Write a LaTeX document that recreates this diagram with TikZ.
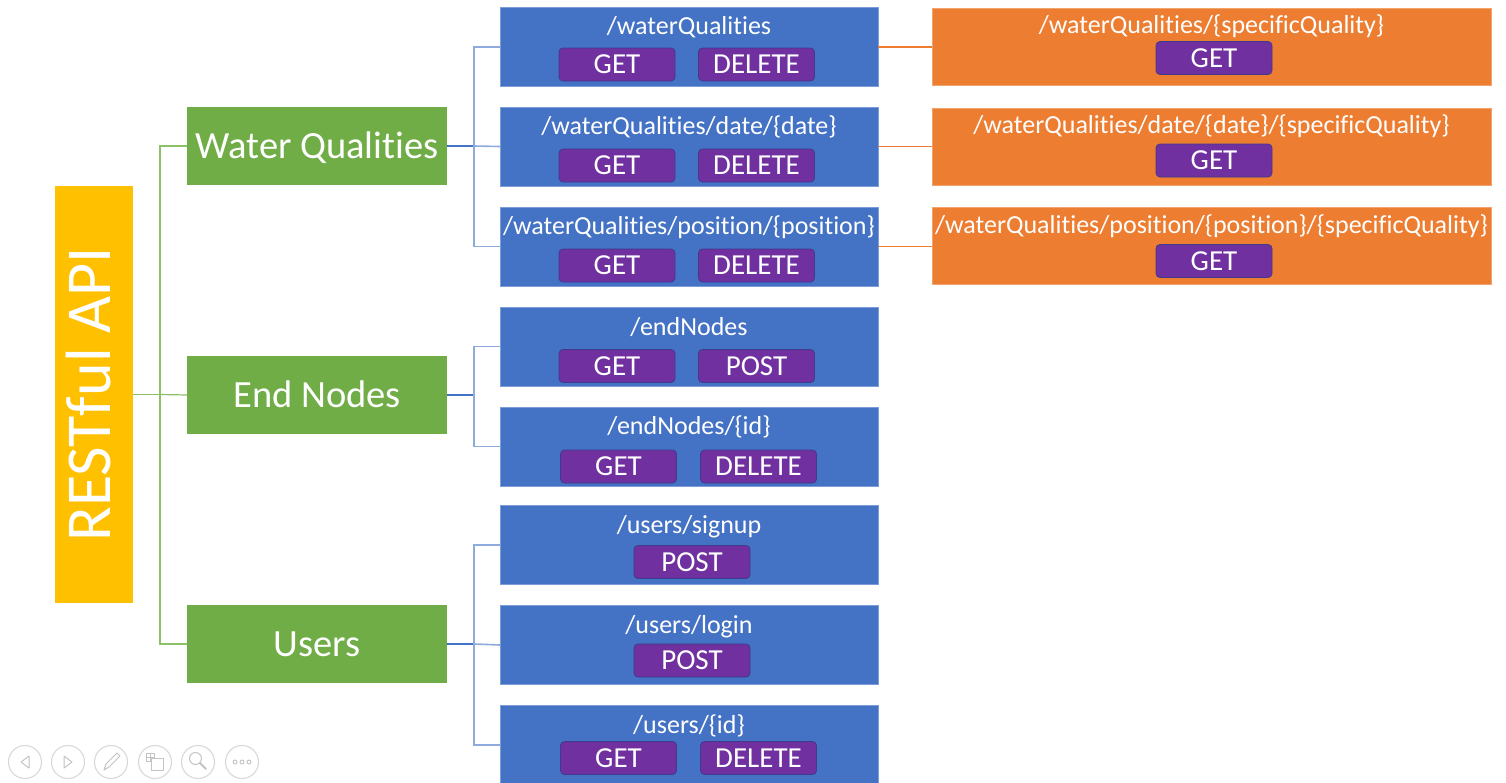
\documentclass[tikz,border=0pt]{standalone}
\usepackage{fontspec}
\setmainfont{Carlito}[Ligatures=NoCommon]
\definecolor{apiyellow}{HTML}{FFC000}
\definecolor{catgreen}{HTML}{70AD47}
\definecolor{epblue}{HTML}{4472C4}
\definecolor{epedge}{HTML}{7D9DD8}
\definecolor{verbpurple}{HTML}{7030A0}
\definecolor{verbedge}{HTML}{3F3A8C}
\definecolor{subgorange}{HTML}{ED7D31}
\definecolor{subgedge}{HTML}{F3A36C}
\definecolor{linkgreen}{HTML}{8CC168}
\definecolor{linkblue}{HTML}{4472C4}
\definecolor{linklight}{HTML}{8FAADC}
\definecolor{iconrim}{HTML}{D9D9D9}
\definecolor{iconglyph}{HTML}{C4C4C4}
\tikzset{
  every node/.style={text=white, inner sep=0pt, outer sep=0pt},
  rootbox/.style={fill=apiyellow, rotate=90, minimum width=417pt, minimum height=78pt,
    font=\fontsize{64}{64}\selectfont, text height=40.5pt, text depth=7pt},
  catbox/.style={fill=catgreen, minimum width=260pt, minimum height=78pt,
    font=\fontsize{38.5}{38.5}\selectfont, text height=24.3pt, text depth=0pt},
  epbox/.style={fill=epblue, draw=epedge, line width=0.8pt, minimum width=378pt, minimum height=79pt},
  subbox/.style={fill=subgorange, draw=subgedge, line width=0.8pt, minimum width=559pt, minimum height=77pt},
  pathtext/.style={anchor=base, font=\fontsize{26}{26}\selectfont},
  verb/.style={fill=verbpurple, draw=verbedge, line width=0.8pt, rounded corners=4pt,
    minimum width=116pt, minimum height=33pt,
    font=\fontsize{29}{29}\selectfont, text height=18.3pt, text depth=0pt},
  greenlink/.style={draw=linkgreen, line width=1.2pt},
  stemlink/.style={draw=linkblue, line width=1.4pt},
  branchlink/.style={draw=linklight, line width=1.6pt},
  orangelink/.style={draw=subgorange, line width=1.1pt},
  iconring/.style={draw=iconrim, line width=1.1pt},
  iconmark/.style={draw=iconglyph, line width=1pt, line join=round, line cap=round}
}
\begin{document}
\begin{tikzpicture}[x=1pt, y=-1pt]
\useasboundingbox (0,0) rectangle (1506,782);
\fill[white] (0,0) rectangle (1506,782);

% root and resource groups
\node[rootbox] (root) at (94,394.5) {RESTful API};
\node[catbox] (wq) at (317,146) {Water Qualities};
\node[catbox] (en) at (317,395) {End Nodes};
\node[catbox] (us) at (317,644) {Users};

% endpoint boxes
\node[epbox] (e1) at (689,47) {};
\node[epbox] (e2) at (689,146.5) {};
\node[epbox] (e3) at (689,246.5) {};
\node[epbox] (e4) at (689,346.5) {};
\node[epbox] (e5) at (689,446.5) {};
\node[epbox] (e6) at (689,545) {};
\node[epbox] (e7) at (689,645) {};
\node[epbox] (e8) at (689,745) {};

\node[pathtext] (t1) at (689,34) {/waterQualities};
\node[pathtext] (t2) at (689,134) {/waterQualities/date/\{date\}};
\node[pathtext] (t3) at (689,234) {/waterQualities/position/\{position\}};
\node[pathtext] (t4) at (689,335) {/endNodes};
\node[pathtext] (t5) at (689,434) {/endNodes/\{id\}};
\node[pathtext] (t6) at (689,533) {/users/signup};
\node[pathtext] (t7) at (689,633) {/users/login};
\node[pathtext] (t8) at (689,733) {/users/\{id\}};

\node[verb] (v1a) at (617,64.5) {GET};
\node[verb] (v1b) at (756.5,64.5) {DELETE};
\node[verb] (v2a) at (617,165.5) {GET};
\node[verb] (v2b) at (756.5,165.5) {DELETE};
\node[verb] (v3a) at (617,265.5) {GET};
\node[verb] (v3b) at (756.5,265.5) {DELETE};
\node[verb] (v4a) at (617,366) {GET};
\node[verb] (v4b) at (756.5,366) {POST};
\node[verb] (v5a) at (618.5,466.5) {GET};
\node[verb] (v5b) at (758.5,466.5) {DELETE};
\node[verb] (v6a) at (692,562) {POST};
\node[verb] (v7a) at (692,660.5) {POST};
\node[verb] (v8a) at (618.5,758) {GET};
\node[verb] (v8b) at (758.5,758) {DELETE};

% specific-quality sub-resources
\node[subbox] (s1) at (1211.5,46.5) {};
\node[subbox] (s2) at (1211.5,146.5) {};
\node[subbox] (s3) at (1211.5,245.5) {};
\node[pathtext] (st1) at (1211.5,33) {/waterQualities/\{specificQuality\}};
\node[pathtext] (st2) at (1211.5,133) {/waterQualities/date/\{date\}/\{specificQuality\}};
\node[pathtext] (st3) at (1211.5,233) {/waterQualities/position/\{position\}/\{specificQuality\}};
\node[verb] (sv1) at (1214,58) {GET};
\node[verb] (sv2) at (1214,160.5) {GET};
\node[verb] (sv3) at (1214,261) {GET};

% root to groups (rotated node: its south side faces right)
\draw[greenlink] (root.south) -- ++(27,0) coordinate (gj);
\draw[greenlink] (gj) |- (wq.west);
\draw[greenlink] (gj) |- (us.west);
\draw[greenlink] (gj) -- (en.west);

% groups to endpoints
\foreach \g/\a/\b in {wq/e1/e3, en/e4/e5, us/e6/e8}{
  \draw[stemlink] (\g.east) -- ([xshift=27pt]\g.east);
  \draw[branchlink] (\a.west) -| ([xshift=27pt]\g.east) |- (\b.west);
}
\draw[branchlink] ([xshift=27pt]wq.east) -- (e2.west);
\draw[branchlink] ([xshift=27pt]us.east) -- (e7.west);

% endpoints to sub-resources
\draw[orangelink] (e1.east) -- (e1.east -| s1.west);
\draw[orangelink] (e2.east) -- (e2.east -| s2.west);
\draw[orangelink] (e3.east) -- (e3.east -| s3.west);

% slideshow control strip
\foreach \cx in {25,68,111,155,198,242}{
  \draw[iconring] (\cx,762) circle (16.5);
}
\draw[iconmark] (29,756) -- (21,762) -- (29,768) -- cycle;
\draw[iconmark] (64,756) -- (72,762) -- (64,768) -- cycle;
\draw[iconmark] (104,770) -- (106,764) -- (117,753) -- (120,756) -- (109,767) -- cycle;
\draw[iconmark] (146,753) rectangle (154,761);
\draw[iconmark] (150,753) -- (150,761) (146,757) -- (154,757);
\draw[iconmark, fill=white] (151,758) rectangle (163,770);
\draw[iconmark] (195.5,758.5) circle (6);
\draw[iconmark, line width=2pt] (200,763) -- (206,769);
\foreach \dx in {235,242,249}{
  \draw[iconmark] (\dx,762) circle (2);
}
\end{tikzpicture}
\end{document}
